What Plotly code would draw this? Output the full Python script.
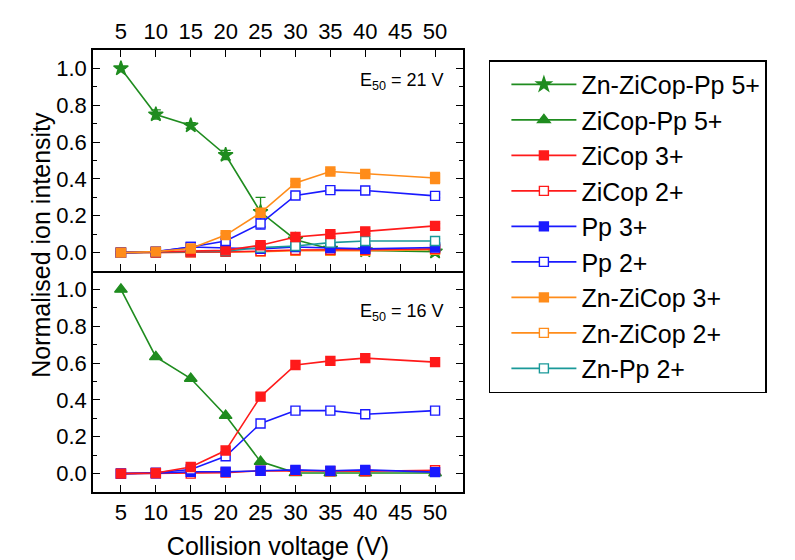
import plotly.graph_objects as go

voltage = [5, 10, 15, 20, 25, 30, 35, 40, 50]
x_ticks = [5, 10, 15, 20, 25, 30, 35, 40, 45, 50]

# Top panel (Zn complex)
zn_zicop_pp5 = [1.0, 0.75, 0.69, 0.53, 0.22, 0.07, 0.02, 0.012, 0.005]
zn_zicop_pp5_err = [0.0, 0.025, 0.015, 0.025, 0.08, 0.01, 0.005, 0.005, 0.005]
top_zicop3 = [0.0, 0.003, 0.006, 0.012, 0.04, 0.085, 0.10, 0.115, 0.145]
top_zicop2 = [0.0, 0.0, 0.002, 0.004, 0.008, 0.014, 0.015, 0.015, 0.02]
top_pp3 = [0.0, 0.004, 0.03, 0.025, 0.02, 0.03, 0.025, 0.02, 0.028]
top_pp2 = [0.0, 0.005, 0.03, 0.063, 0.157, 0.31, 0.339, 0.337, 0.308]
top_pp2_err = [0.005, 0.01, 0.01, 0.01, 0.03, 0.015, 0.012, 0.01, 0.01]
zn_zicop3 = [0.0, 0.005, 0.022, 0.095, 0.216, 0.378, 0.44, 0.427, 0.405]
zn_zicop3_err = [0.005, 0.005, 0.005, 0.01, 0.02, 0.01, 0.01, 0.01, 0.03]
zn_zicop2 = [0.0, 0.0, 0.002, 0.004, 0.005, 0.01, 0.01, 0.01, 0.015]
zn_pp2 = [0.0, 0.003, 0.005, 0.008, 0.027, 0.036, 0.054, 0.063, 0.063]
small_err = [0.005, 0.01, 0.01, 0.01, 0.012, 0.012, 0.012, 0.012, 0.012]

# Bottom panel
zicop_pp5 = [1.0, 0.634, 0.516, 0.315, 0.065, 0.004, 0.003, 0.003, 0.003]
bot_zicop3 = [0.0, 0.003, 0.036, 0.125, 0.418, 0.59, 0.612, 0.627, 0.605]
bot_zicop2 = [0.0, 0.002, 0.0, 0.005, 0.015, 0.015, 0.013, 0.013, 0.018]
bot_pp3 = [0.0, 0.002, 0.01, 0.01, 0.015, 0.02, 0.015, 0.02, 0.008]
bot_pp2 = [0.0, 0.005, 0.022, 0.094, 0.272, 0.342, 0.342, 0.322, 0.342]

legend_order = ["Zn-ZiCop-Pp 5+", "ZiCop-Pp 5+", "ZiCop 3+", "ZiCop 2+", "Pp 3+", "Pp 2+",
                "Zn-ZiCop 3+", "Zn-ZiCop 2+", "Zn-Pp 2+"]

GREEN = "#1f8c1f"
RED = "#ff1a1a"
BLUE = "#1a1aff"
ORANGE = "#ff8c1a"
TEAL = "#1a9999"
FONT = "Arial, Liberation Sans, sans-serif"

STYLE = {
    "Zn-ZiCop-Pp 5+": (GREEN, "star", True, 11),
    "ZiCop-Pp 5+": (GREEN, "triangle-up", True, 11),
    "ZiCop 3+": (RED, "square", True, 9),
    "ZiCop 2+": (RED, "square", False, 9),
    "Pp 3+": (BLUE, "square", True, 9),
    "Pp 2+": (BLUE, "square", False, 9),
    "Zn-ZiCop 3+": (ORANGE, "square", True, 9),
    "Zn-ZiCop 2+": (ORANGE, "square", False, 9),
    "Zn-Pp 2+": (TEAL, "square", False, 9),
}

fig = go.Figure()


def add(x, y, name, xa, ya, show, err=None):
    color, symbol, filled, size = STYLE[name]
    kw = {}
    if err is not None:
        kw["error_y"] = dict(type="data", array=err, visible=True,
                             color=color, thickness=1.3, width=5)
    fig.add_trace(go.Scatter(
        x=x, y=y, name=name, mode="lines+markers",
        line=dict(color=color, width=1.6),
        marker=dict(symbol=symbol, color=color if filled else "white",
                    size=size, line=dict(color=color, width=1.4)),
        xaxis=xa, yaxis=ya, showlegend=show, legendrank=legend_order.index(name) + 1,
        **kw))


# top panel
add(voltage, zn_zicop_pp5, "Zn-ZiCop-Pp 5+", "x", "y", True, zn_zicop_pp5_err)
add(voltage, zn_zicop2, "Zn-ZiCop 2+", "x", "y", True, small_err)
add(voltage, top_zicop2, "ZiCop 2+", "x", "y", True, small_err)
add(voltage, top_pp3, "Pp 3+", "x", "y", True, small_err)
add(voltage, zn_pp2, "Zn-Pp 2+", "x", "y", True, small_err)
add(voltage, top_zicop3, "ZiCop 3+", "x", "y", True, small_err)
add(voltage, top_pp2, "Pp 2+", "x", "y", True, top_pp2_err)
add(voltage, zn_zicop3, "Zn-ZiCop 3+", "x", "y", True, zn_zicop3_err)

# bottom panel
add(voltage, zicop_pp5, "ZiCop-Pp 5+", "x2", "y2", True)
add(voltage, bot_zicop2, "ZiCop 2+", "x2", "y2", False)
add(voltage, bot_pp3, "Pp 3+", "x2", "y2", False)
add(voltage, bot_pp2, "Pp 2+", "x2", "y2", False)
add(voltage, bot_zicop3, "ZiCop 3+", "x2", "y2", False)

TICKFONT = dict(size=22, family=FONT, color="black")
xcommon = dict(range=[1, 54], tickvals=x_ticks, ticks="inside", ticklen=7,
               tickcolor="black", linecolor="black", linewidth=1.5, showgrid=False,
               showline=True, zeroline=False, tickfont=TICKFONT, automargin=False)
ycommon = dict(range=[-0.1, 1.1], tick0=0, dtick=0.2, tickformat=".1f", ticks="inside",
               ticklen=7, tickcolor="black", linecolor="black", linewidth=1.5,
               showline=True, mirror="ticks", showgrid=False, zeroline=False,
               minor=dict(dtick=0.1, tick0=0, ticks="inside", ticklen=4, tickcolor="black"),
               tickfont=TICKFONT, automargin=False)

fig.update_layout(
    width=795, height=560,
    margin=dict(l=93, r=332, t=50, b=68),
    plot_bgcolor="white", paper_bgcolor="white",
    font=dict(family=FONT, color="black"),
    xaxis=dict(**xcommon, anchor="y", side="top", mirror="ticks"),
    yaxis=dict(**ycommon, domain=[0.5, 1.0], anchor="x"),
    xaxis2=dict(**xcommon, anchor="y2", side="bottom", mirror=False,
                title=dict(text="Collision voltage (V)", font=dict(size=25, family=FONT),
                           standoff=14)),
    yaxis2=dict(**ycommon, domain=[0.0, 0.5], anchor="x2"),
    legend=dict(x=1.07, y=0.977, xanchor="left", yanchor="top",
                bordercolor="black", borderwidth=1.5, itemwidth=65, indentation=16,
                font=dict(size=25, family=FONT, color="black"),
                tracegroupgap=0, bgcolor="white"),
    showlegend=True,
    annotations=[
        dict(text="Normalised ion intensity", x=-0.184, y=0.559, xref="paper", yref="paper",
             textangle=-90, showarrow=False, font=dict(size=25, family=FONT)),
        dict(text="E<sub>50</sub> = 21 V", x=0.954, y=0.928, xref="paper", yref="paper",
             xanchor="right", yanchor="middle", showarrow=False, font=dict(size=18, family=FONT)),
        dict(text="E<sub>50</sub> = 16 V", x=0.954, y=0.407, xref="paper", yref="paper",
             xanchor="right", yanchor="middle", showarrow=False, font=dict(size=18, family=FONT)),
    ],
)

fig.write_html("out.html")
